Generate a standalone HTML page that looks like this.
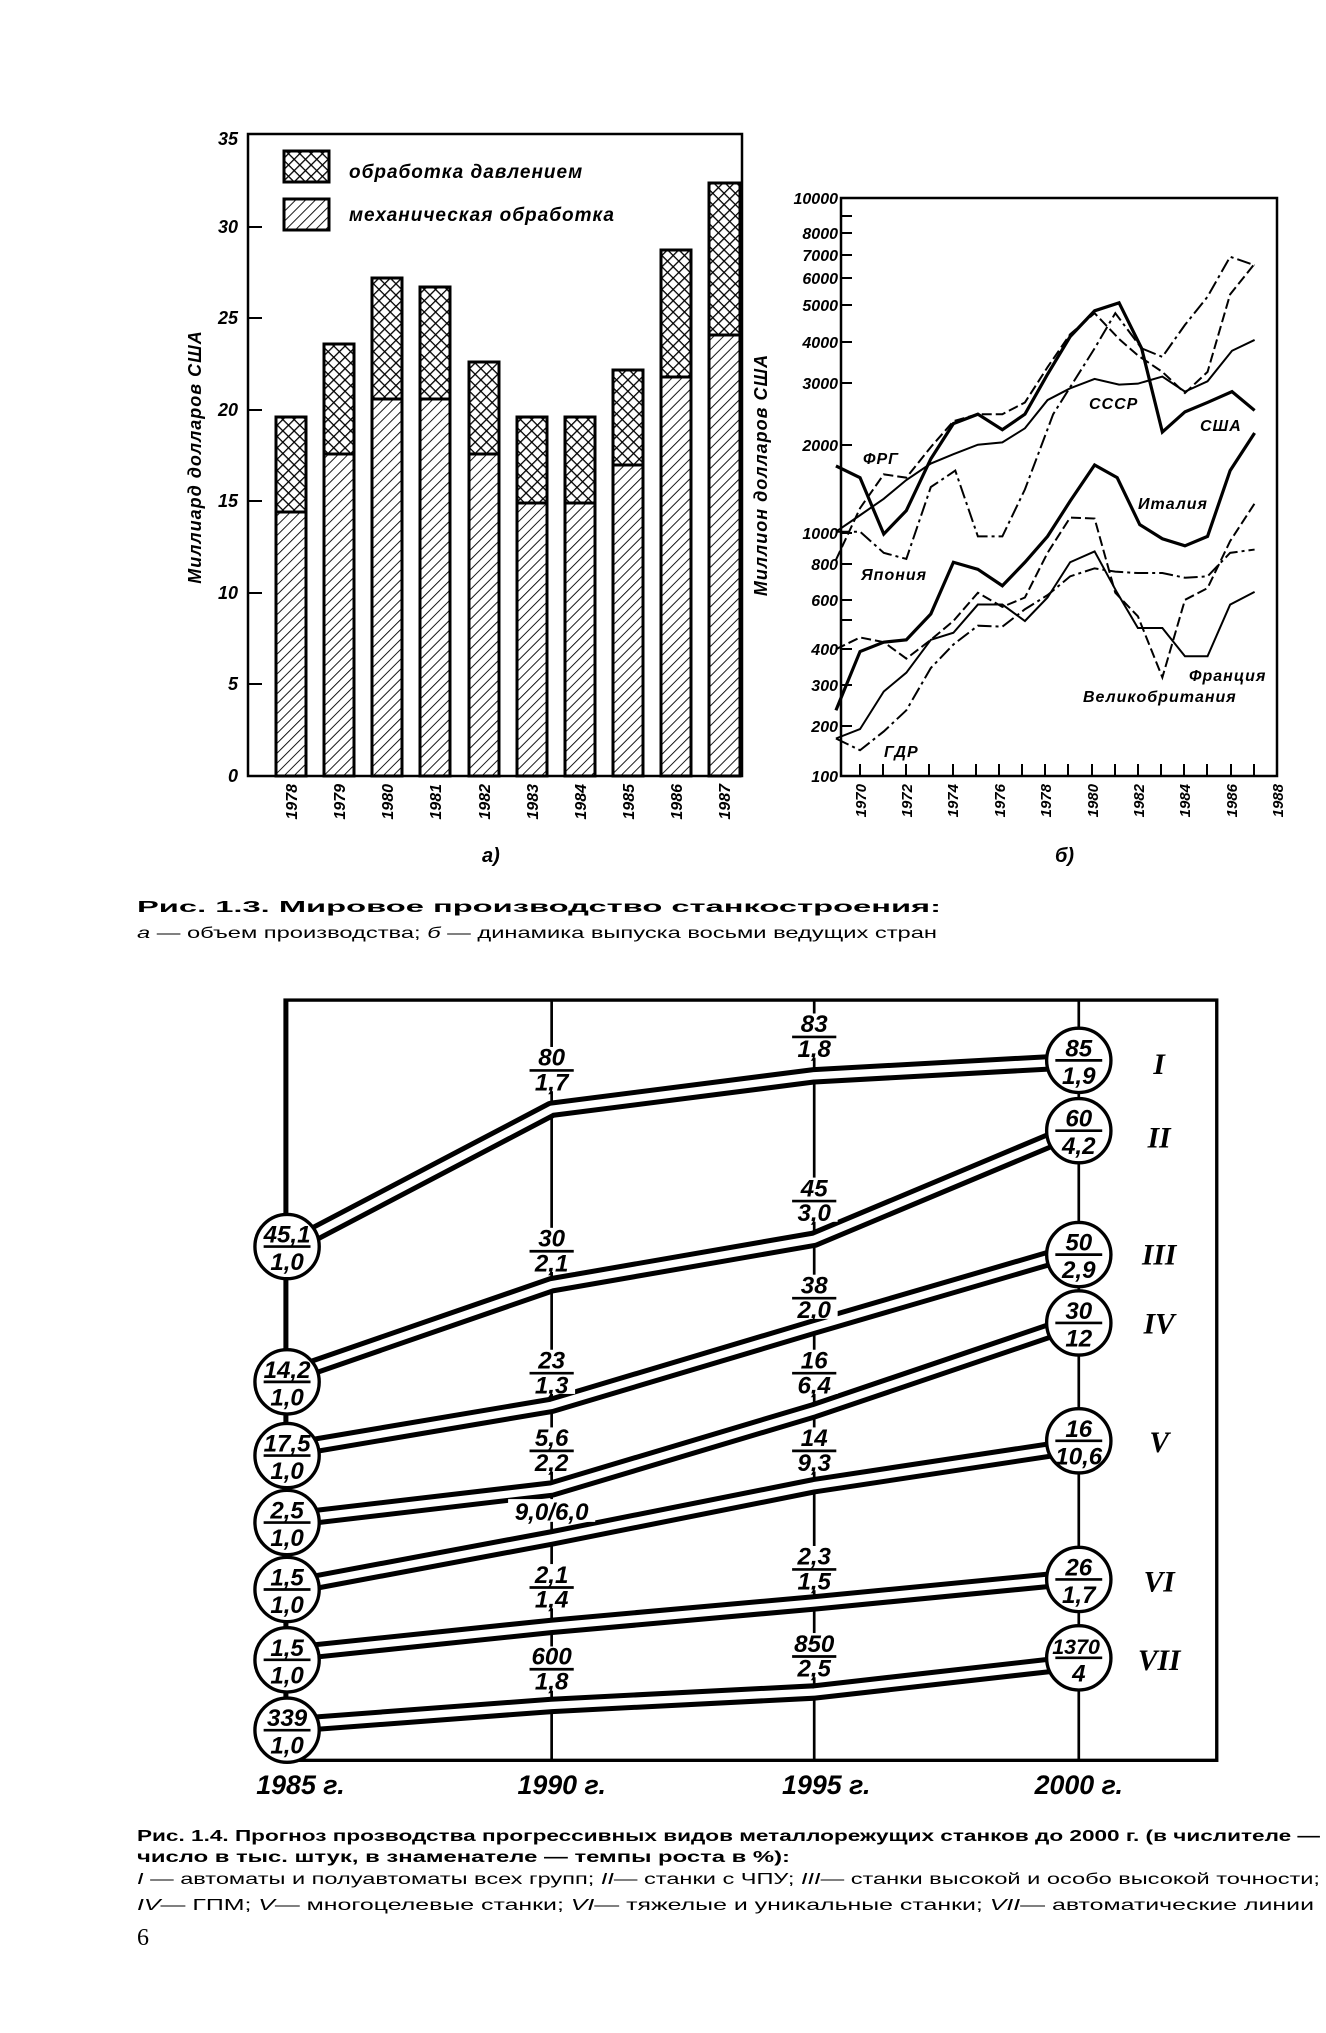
<!DOCTYPE html>
<html><head><meta charset="utf-8"><style>
html,body{margin:0;padding:0;background:#fff}
svg{display:block}
text{font-family:"Liberation Sans","DejaVu Sans",sans-serif;fill:#000}
.it{font-style:italic;font-weight:bold}
</style></head><body>
<svg width="1326" height="2033" viewBox="0 0 1326 2033" xmlns="http://www.w3.org/2000/svg">
<defs>
<pattern id="hd" patternUnits="userSpaceOnUse" width="7" height="7" patternTransform="rotate(45)">
<rect width="7" height="7" fill="#fff"/><line x1="0" y1="0" x2="0" y2="7" stroke="#000" stroke-width="1.8"/></pattern>
<pattern id="hx" patternUnits="userSpaceOnUse" width="8" height="8" patternTransform="rotate(45)">
<rect width="8" height="8" fill="#fff"/><line x1="0" y1="0" x2="0" y2="8" stroke="#000" stroke-width="2.6"/><line x1="0" y1="0" x2="8" y2="0" stroke="#000" stroke-width="2.6"/></pattern>
</defs>

<!-- Chart a -->
<rect x="248" y="134" width="494" height="642" fill="none" stroke="#000" stroke-width="2.5"/>
<g stroke="#000" stroke-width="2">
<line x1="248" y1="684" x2="262" y2="684"/><line x1="248" y1="593" x2="262" y2="593"/><line x1="248" y1="501" x2="262" y2="501"/><line x1="248" y1="410" x2="262" y2="410"/><line x1="248" y1="318" x2="262" y2="318"/><line x1="248" y1="227" x2="262" y2="227"/>
</g>
<g class="it" font-size="18" text-anchor="end">
<text x="238" y="782">0</text><text x="238" y="690">5</text><text x="238" y="599">10</text><text x="238" y="507">15</text><text x="238" y="416">20</text><text x="238" y="324">25</text><text x="238" y="233">30</text><text x="238" y="145">35</text>
</g>
<text class="it" font-size="18" transform="translate(201,457) rotate(-90)" text-anchor="middle" letter-spacing="1">Миллиард  долларов  США</text>
<g stroke="#000" stroke-width="3">
<rect x="276" y="512" width="30" height="264" fill="url(#hd)"/><rect x="276" y="417" width="30" height="95" fill="url(#hx)"/>
<rect x="324" y="454" width="30" height="322" fill="url(#hd)"/><rect x="324" y="344" width="30" height="110" fill="url(#hx)"/>
<rect x="372" y="399" width="30" height="377" fill="url(#hd)"/><rect x="372" y="278" width="30" height="121" fill="url(#hx)"/>
<rect x="420" y="399" width="30" height="377" fill="url(#hd)"/><rect x="420" y="287" width="30" height="112" fill="url(#hx)"/>
<rect x="469" y="454" width="30" height="322" fill="url(#hd)"/><rect x="469" y="362" width="30" height="92" fill="url(#hx)"/>
<rect x="517" y="503" width="30" height="273" fill="url(#hd)"/><rect x="517" y="417" width="30" height="86" fill="url(#hx)"/>
<rect x="565" y="503" width="30" height="273" fill="url(#hd)"/><rect x="565" y="417" width="30" height="86" fill="url(#hx)"/>
<rect x="613" y="465" width="30" height="311" fill="url(#hd)"/><rect x="613" y="370" width="30" height="95" fill="url(#hx)"/>
<rect x="661" y="377" width="30" height="399" fill="url(#hd)"/><rect x="661" y="250" width="30" height="127" fill="url(#hx)"/>
<rect x="709" y="335" width="31" height="441" fill="url(#hd)"/><rect x="709" y="183" width="31" height="152" fill="url(#hx)"/>
<rect x="284" y="151" width="45" height="31" fill="url(#hx)"/>
<rect x="284" y="199" width="45" height="31" fill="url(#hd)"/>
</g>
<text class="it" font-size="19" x="349" y="178" letter-spacing="1">обработка   давлением</text>
<text class="it" font-size="19" x="349" y="221" letter-spacing="1">механическая   обработка</text>
<g class="it" font-size="16" text-anchor="end">
<text transform="translate(297,784) rotate(-90)">1978</text><text transform="translate(345,784) rotate(-90)">1979</text><text transform="translate(393,784) rotate(-90)">1980</text><text transform="translate(441,784) rotate(-90)">1981</text><text transform="translate(490,784) rotate(-90)">1982</text><text transform="translate(538,784) rotate(-90)">1983</text><text transform="translate(586,784) rotate(-90)">1984</text><text transform="translate(634,784) rotate(-90)">1985</text><text transform="translate(682,784) rotate(-90)">1986</text><text transform="translate(730,784) rotate(-90)">1987</text>
</g>
<text class="it" font-size="20" x="482" y="862">а)</text>

<!-- Chart b -->
<rect x="841" y="198" width="436" height="578" fill="none" stroke="#000" stroke-width="2.5"/>
<g stroke="#000" stroke-width="2">
<line x1="841" y1="216" x2="852" y2="216"/><line x1="841" y1="233" x2="852" y2="233"/><line x1="841" y1="255" x2="852" y2="255"/><line x1="841" y1="278" x2="852" y2="278"/><line x1="841" y1="305" x2="852" y2="305"/><line x1="841" y1="342" x2="852" y2="342"/><line x1="841" y1="383" x2="852" y2="383"/><line x1="841" y1="445" x2="852" y2="445"/><line x1="841" y1="533" x2="852" y2="533"/><line x1="841" y1="564" x2="852" y2="564"/><line x1="841" y1="600" x2="852" y2="600"/><line x1="841" y1="620" x2="852" y2="620"/><line x1="841" y1="649" x2="852" y2="649"/><line x1="841" y1="685" x2="852" y2="685"/><line x1="841" y1="726" x2="852" y2="726"/>
<line x1="860" y1="776" x2="860" y2="764"/><line x1="883" y1="776" x2="883" y2="764"/><line x1="906" y1="776" x2="906" y2="764"/><line x1="929" y1="776" x2="929" y2="764"/><line x1="953" y1="776" x2="953" y2="764"/><line x1="976" y1="776" x2="976" y2="764"/><line x1="999" y1="776" x2="999" y2="764"/><line x1="1022" y1="776" x2="1022" y2="764"/><line x1="1045" y1="776" x2="1045" y2="764"/><line x1="1068" y1="776" x2="1068" y2="764"/><line x1="1092" y1="776" x2="1092" y2="764"/><line x1="1115" y1="776" x2="1115" y2="764"/><line x1="1138" y1="776" x2="1138" y2="764"/><line x1="1161" y1="776" x2="1161" y2="764"/><line x1="1184" y1="776" x2="1184" y2="764"/><line x1="1207" y1="776" x2="1207" y2="764"/><line x1="1231" y1="776" x2="1231" y2="764"/><line x1="1254" y1="776" x2="1254" y2="764"/>
</g>
<g class="it" font-size="16" text-anchor="end">
<text x="838" y="204">10000</text><text x="838" y="239">8000</text><text x="838" y="261">7000</text><text x="838" y="284">6000</text><text x="838" y="311">5000</text><text x="838" y="348">4000</text><text x="838" y="389">3000</text><text x="838" y="451">2000</text><text x="838" y="539">1000</text><text x="838" y="570">800</text><text x="838" y="606">600</text><text x="838" y="655">400</text><text x="838" y="691">300</text><text x="838" y="732">200</text><text x="838" y="782">100</text>
</g>
<text class="it" font-size="18" transform="translate(767,475) rotate(-90)" text-anchor="middle" letter-spacing="1">Миллион  долларов  США</text>
<g class="it" font-size="15" text-anchor="end">
<text transform="translate(866,784) rotate(-90)">1970</text><text transform="translate(912,784) rotate(-90)">1972</text><text transform="translate(958,784) rotate(-90)">1974</text><text transform="translate(1005,784) rotate(-90)">1976</text><text transform="translate(1051,784) rotate(-90)">1978</text><text transform="translate(1098,784) rotate(-90)">1980</text><text transform="translate(1144,784) rotate(-90)">1982</text><text transform="translate(1190,784) rotate(-90)">1984</text><text transform="translate(1237,784) rotate(-90)">1986</text><text transform="translate(1283,784) rotate(-90)">1988</text>
</g>
<text class="it" font-size="20" x="1055" y="862">б)</text>
<g transform="translate(738.8,169.8) scale(0.3765,0.47)" fill="none" stroke="#000">
<!-- USA -->
<polyline vector-effect="non-scaling-stroke" stroke-width="3.2" points="258,630 322,655 385,775 445,725 510,615 570,540 635,520 700,553 760,520 820,435 880,355 945,300 1010,283 1070,380 1125,558 1185,515 1245,495 1310,472 1370,512"/>
<!-- USSR -->
<polyline vector-effect="non-scaling-stroke" stroke-width="2" points="258,770 322,735 385,700 445,660 510,625 570,605 635,585 700,580 760,550 820,490 880,465 945,445 1010,457 1060,455 1125,440 1185,472 1245,450 1310,385 1370,362"/>
<!-- FRG -->
<polyline vector-effect="non-scaling-stroke" stroke-width="2" stroke-dasharray="10,4" points="258,830 322,720 385,648 445,655 510,590 570,535 635,520 700,520 760,495 820,420 880,350 945,305 1010,360 1060,395 1125,430 1185,475 1245,430 1305,265 1370,200"/>
<!-- Japan -->
<polyline vector-effect="non-scaling-stroke" stroke-width="2" stroke-dasharray="14,4,3,4" points="258,770 322,770 385,815 445,828 510,675 575,640 635,780 700,780 760,680 835,520 945,380 1000,305 1070,380 1125,398 1185,330 1245,270 1305,185 1370,203"/>
<!-- Italy -->
<polyline vector-effect="non-scaling-stroke" stroke-width="3.2" points="258,1150 322,1025 385,1005 445,1000 510,945 570,835 635,850 700,885 760,835 820,780 880,705 945,628 1005,655 1065,755 1125,785 1185,800 1245,780 1305,640 1370,560"/>
<!-- France -->
<polyline vector-effect="non-scaling-stroke" stroke-width="2" stroke-dasharray="10,4" points="258,1020 322,995 385,1005 445,1040 510,1000 570,960 635,900 700,930 760,910 820,815 880,740 945,742 1000,900 1060,950 1125,1080 1185,915 1245,890 1305,790 1370,710"/>
<!-- GB -->
<polyline vector-effect="non-scaling-stroke" stroke-width="2" stroke-dasharray="14,4,3,4" points="258,1210 322,1235 385,1195 445,1150 510,1060 570,1010 635,970 700,972 760,935 820,905 880,865 945,848 1000,855 1060,858 1125,858 1185,868 1245,865 1305,815 1370,808"/>
<!-- GDR -->
<polyline vector-effect="non-scaling-stroke" stroke-width="2" points="258,1210 322,1190 385,1110 445,1070 510,1000 570,985 635,925 700,925 760,960 820,910 880,835 945,812 1005,900 1060,975 1125,975 1185,1035 1245,1035 1305,925 1370,898"/>
</g>
<g class="it" font-size="16" letter-spacing="1">
<text x="863" y="464">ФРГ</text><text x="1200" y="431">США</text><text x="1089" y="409">СССР</text><text x="1138" y="509">Италия</text><text x="861" y="580">Япония</text><text x="1189" y="681">Франция</text><text x="1083" y="702">Великобритания</text><text x="884" y="757">ГДР</text>
</g>

<!-- Caption 1.3 -->
<text x="137" y="912" font-size="16" font-weight="bold" textLength="804" lengthAdjust="spacingAndGlyphs">Рис. 1.3. Мировое производство станкостроения:</text>
<text x="137" y="938" font-size="16" textLength="800" lengthAdjust="spacingAndGlyphs"><tspan font-style="italic">а</tspan> — объем производства; <tspan font-style="italic">б</tspan> — динамика выпуска восьми ведущих стран</text>

<!-- Chart c -->
<g transform="translate(200,980) scale(0.6698)">
<rect x="127" y="30" width="1391" height="1135" fill="none" stroke="#000" stroke-width="5"/>
<g stroke="#000" stroke-width="4">
<line x1="525" y1="30" x2="525" y2="1165"/><line x1="917" y1="30" x2="917" y2="1165"/><line x1="1312" y1="30" x2="1312" y2="1165"/><line x1="130" y1="30" x2="130" y2="1165"/>
</g>
<g fill="none" stroke-linejoin="round">
<g stroke="#000" stroke-width="26">
<polyline points="140,395 525,193 917,143 1280,123"/>
<polyline points="140,588 525,455 917,387 1280,235"/>
<polyline points="140,700 525,635 917,518 1280,412"/>
<polyline points="140,805 525,760 917,643 1280,520"/>
<polyline points="140,905 525,833 917,755 1280,700"/>
<polyline points="140,1005 525,965 917,930 1280,895"/>
<polyline points="140,1112 525,1083 917,1063 1280,1022"/>
</g>
<g stroke="#fff" stroke-width="11">
<polyline points="140,395 525,193 917,143 1280,123"/>
<polyline points="140,588 525,455 917,387 1280,235"/>
<polyline points="140,700 525,635 917,518 1280,412"/>
<polyline points="140,805 525,760 917,643 1280,520"/>
<polyline points="140,905 525,833 917,755 1280,700"/>
<polyline points="140,1005 525,965 917,930 1280,895"/>
<polyline points="140,1112 525,1083 917,1063 1280,1022"/>
</g>
</g>
<g fill="#fff" stroke="#000" stroke-width="5">
<circle cx="130" cy="398" r="48"/><circle cx="130" cy="600" r="48"/><circle cx="130" cy="710" r="48"/><circle cx="130" cy="810" r="48"/><circle cx="130" cy="910" r="48"/><circle cx="130" cy="1015" r="48"/><circle cx="130" cy="1120" r="48"/>
<circle cx="1312" cy="120" r="48"/><circle cx="1312" cy="225" r="48"/><circle cx="1312" cy="410" r="48"/><circle cx="1312" cy="512" r="48"/><circle cx="1312" cy="688" r="48"/><circle cx="1312" cy="895" r="48"/><circle cx="1312" cy="1012" r="48"/>
</g>
<g stroke="#000" stroke-width="4">
<line x1="95" y1="398" x2="165" y2="398"/><line x1="95" y1="600" x2="165" y2="600"/><line x1="95" y1="710" x2="165" y2="710"/><line x1="95" y1="810" x2="165" y2="810"/><line x1="95" y1="910" x2="165" y2="910"/><line x1="95" y1="1015" x2="165" y2="1015"/><line x1="95" y1="1120" x2="165" y2="1120"/>
<line x1="1277" y1="120" x2="1347" y2="120"/><line x1="1277" y1="225" x2="1347" y2="225"/><line x1="1277" y1="410" x2="1347" y2="410"/><line x1="1277" y1="512" x2="1347" y2="512"/><line x1="1277" y1="688" x2="1347" y2="688"/><line x1="1277" y1="895" x2="1347" y2="895"/><line x1="1277" y1="1012" x2="1347" y2="1012"/>
</g>
<g class="it" font-size="36" text-anchor="middle">
<text x="130" y="392">45,1</text><text x="130" y="433">1,0</text>
<text x="130" y="594">14,2</text><text x="130" y="635">1,0</text>
<text x="130" y="704">17,5</text><text x="130" y="745">1,0</text>
<text x="130" y="804">2,5</text><text x="130" y="845">1,0</text>
<text x="130" y="904">1,5</text><text x="130" y="945">1,0</text>
<text x="130" y="1009">1,5</text><text x="130" y="1050">1,0</text>
<text x="130" y="1114">339</text><text x="130" y="1155">1,0</text>
<text x="1312" y="114">85</text><text x="1312" y="155">1,9</text>
<text x="1312" y="219">60</text><text x="1312" y="260">4,2</text>
<text x="1312" y="404">50</text><text x="1312" y="445">2,9</text>
<text x="1312" y="506">30</text><text x="1312" y="547">12</text>
<text x="1312" y="682">16</text><text x="1312" y="723">10,6</text>
<text x="1312" y="889">26</text><text x="1312" y="930">1,7</text>
<text x="1308" y="1006" font-size="32">1370</text><text x="1312" y="1047">4</text>
</g>
<!-- mid labels -->
<g fill="#fff">
<rect x="490" y="100" width="70" height="66"/><rect x="490" y="370" width="70" height="66"/><rect x="490" y="552" width="70" height="66"/><rect x="490" y="668" width="70" height="66"/><rect x="460" y="775" width="130" height="34"/><rect x="490" y="872" width="70" height="66"/><rect x="490" y="995" width="70" height="66"/>
<rect x="882" y="50" width="70" height="66"/><rect x="882" y="295" width="70" height="66"/><rect x="882" y="440" width="70" height="66"/><rect x="882" y="552" width="70" height="66"/><rect x="882" y="668" width="70" height="66"/><rect x="882" y="845" width="70" height="66"/><rect x="882" y="975" width="70" height="66"/>
</g>
<g class="it" font-size="36" text-anchor="middle">
<text x="525" y="128">80</text><text x="525" y="165">1,7</text>
<text x="525" y="398">30</text><text x="525" y="435">2,1</text>
<text x="525" y="580">23</text><text x="525" y="617">1,3</text>
<text x="525" y="696">5,6</text><text x="525" y="733">2,2</text>
<text x="525" y="806">9,0/6,0</text>
<text x="525" y="900">2,1</text><text x="525" y="937">1,4</text>
<text x="525" y="1022">600</text><text x="525" y="1059">1,8</text>
<text x="917" y="78">83</text><text x="917" y="115">1,8</text>
<text x="917" y="323">45</text><text x="917" y="360">3,0</text>
<text x="917" y="468">38</text><text x="917" y="505">2,0</text>
<text x="917" y="580">16</text><text x="917" y="617">6,4</text>
<text x="917" y="696">14</text><text x="917" y="733">9,3</text>
<text x="917" y="873">2,3</text><text x="917" y="910">1,5</text>
<text x="917" y="1003">850</text><text x="917" y="1040">2,5</text>
</g>
<g stroke="#000" stroke-width="4">
<line x1="492" y1="135" x2="558" y2="135"/><line x1="492" y1="405" x2="558" y2="405"/><line x1="492" y1="587" x2="558" y2="587"/><line x1="492" y1="703" x2="558" y2="703"/><line x1="492" y1="907" x2="558" y2="907"/><line x1="492" y1="1029" x2="558" y2="1029"/>
<line x1="884" y1="85" x2="950" y2="85"/><line x1="884" y1="330" x2="950" y2="330"/><line x1="884" y1="475" x2="950" y2="475"/><line x1="884" y1="587" x2="950" y2="587"/><line x1="884" y1="703" x2="950" y2="703"/><line x1="884" y1="880" x2="950" y2="880"/><line x1="884" y1="1010" x2="950" y2="1010"/>
</g>
<g font-family="Liberation Serif,serif" font-style="italic" font-weight="bold" font-size="44" text-anchor="middle">
<text x="1432" y="140" style="font-family:'Liberation Serif',serif">I</text>
<text x="1432" y="250" style="font-family:'Liberation Serif',serif">II</text>
<text x="1432" y="425" style="font-family:'Liberation Serif',serif">III</text>
<text x="1432" y="528" style="font-family:'Liberation Serif',serif">IV</text>
<text x="1432" y="705" style="font-family:'Liberation Serif',serif">V</text>
<text x="1432" y="913" style="font-family:'Liberation Serif',serif">VI</text>
<text x="1432" y="1030" style="font-family:'Liberation Serif',serif">VII</text>
</g>
<g class="it" font-size="40" text-anchor="middle">
<text x="150" y="1215">1985 г.</text><text x="540" y="1215">1990 г.</text><text x="935" y="1215">1995 г.</text><text x="1312" y="1215">2000 г.</text>
</g>
</g>

<!-- Caption 1.4 -->
<text x="137" y="1841" font-size="16" font-weight="bold" textLength="1183" lengthAdjust="spacingAndGlyphs">Рис. 1.4. Прогноз прозводства прогрессивных видов металлорежущих станков до 2000 г. (в числителе —</text>
<text x="137" y="1862" font-size="16" font-weight="bold" textLength="653" lengthAdjust="spacingAndGlyphs">число в тыс. штук, в знаменателе — темпы роста в %):</text>
<text x="137" y="1884" font-size="16" textLength="1183" lengthAdjust="spacingAndGlyphs"><tspan font-style="italic">I</tspan> — автоматы и полуавтоматы всех групп; <tspan font-style="italic">II</tspan>— станки с ЧПУ; <tspan font-style="italic">III</tspan>— станки высокой и особо высокой точности;</text>
<text x="137" y="1910" font-size="16" textLength="1177" lengthAdjust="spacingAndGlyphs"><tspan font-style="italic">IV</tspan>— ГПМ; <tspan font-style="italic">V</tspan>— многоцелевые станки; <tspan font-style="italic">VI</tspan>— тяжелые и уникальные станки; <tspan font-style="italic">VII</tspan>— автоматические линии</text>
<text x="137" y="1945" font-size="24" font-family="Liberation Serif,serif" style="font-family:'Liberation Serif',serif">6</text>
</svg>
</body></html>
